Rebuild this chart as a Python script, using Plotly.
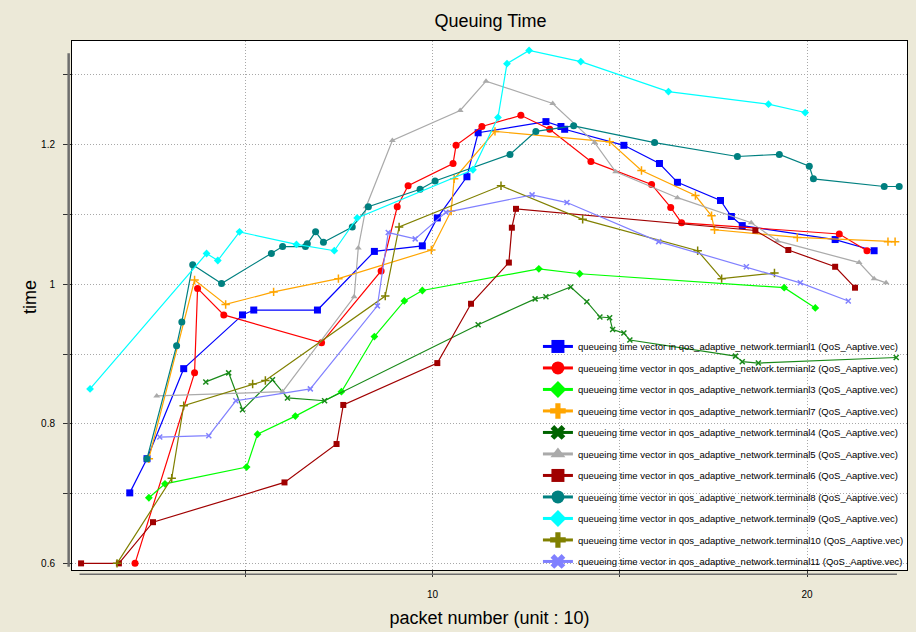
import plotly.graph_objects as go

# ---------------- data ----------------
t1_x = [1.92, 2.38, 3.36, 4.93, 5.23, 6.93, 8.45, 9.73, 10.13, 10.92, 11.22, 13.03, 13.43, 13.53, 15.11, 16.06, 16.54, 17.69, 17.98, 18.27, 20.75, 21.79]
t1_y = [0.701, 0.750, 0.879, 0.956, 0.963, 0.963, 1.047, 1.055, 1.095, 1.154, 1.217, 1.233, 1.226, 1.222, 1.199, 1.173, 1.146, 1.120, 1.097, 1.084, 1.064, 1.048]

t2_x = [2.06, 3.65, 3.73, 4.43, 7.04, 8.63, 9.06, 9.35, 10.55, 10.63, 11.32, 12.36, 13.13, 14.23, 15.85, 16.36, 16.65, 20.86, 21.60]
t2_y = [0.600, 0.873, 0.994, 0.956, 0.916, 1.019, 1.111, 1.141, 1.173, 1.199, 1.226, 1.242, 1.222, 1.176, 1.143, 1.110, 1.088, 1.072, 1.048]

t3_x = [2.43, 2.86, 5.04, 5.33, 6.34, 7.57, 8.45, 9.25, 9.73, 12.84, 13.93, 19.39, 20.22]
t3_y = [0.694, 0.714, 0.738, 0.785, 0.811, 0.846, 0.925, 0.976, 0.991, 1.022, 1.015, 0.995, 0.966]

t7_x = [2.43, 3.65, 4.48, 5.76, 7.49, 9.97, 10.50, 10.58, 11.67, 14.73, 15.58, 17.02, 17.45, 17.53, 19.74, 22.16, 22.35]
t7_y = [0.750, 1.006, 0.971, 0.989, 1.008, 1.049, 1.105, 1.151, 1.219, 1.204, 1.163, 1.127, 1.098, 1.078, 1.067, 1.061, 1.061]

t4_x = [3.95, 4.56, 4.93, 5.73, 6.13, 7.12, 11.22, 12.74, 13.03, 13.69, 14.12, 14.47, 14.73, 14.81, 15.11, 15.27, 18.09, 18.27, 18.70, 22.38]
t4_y = [0.860, 0.873, 0.820, 0.863, 0.837, 0.833, 0.942, 0.979, 0.982, 0.996, 0.975, 0.953, 0.952, 0.935, 0.930, 0.920, 0.897, 0.889, 0.887, 0.895]

t5_x = [2.64, 6.00, 7.91, 8.02, 8.23, 8.93, 10.74, 11.43, 13.21, 14.33, 14.89, 16.54, 18.51, 19.21, 21.39, 21.79, 22.11]
t5_y = [0.840, 0.846, 0.982, 1.052, 1.111, 1.206, 1.249, 1.291, 1.259, 1.203, 1.161, 1.124, 1.088, 1.062, 1.031, 1.008, 1.002]

t6_x = [0.62, 1.63, 2.54, 6.05, 7.44, 7.62, 10.13, 11.03, 12.04, 12.12, 12.23, 18.62, 19.50, 20.75, 21.28]
t6_y = [0.600, 0.600, 0.659, 0.716, 0.771, 0.827, 0.887, 0.972, 1.031, 1.081, 1.108, 1.077, 1.049, 1.025, 0.995]

t8_x = [2.38, 3.17, 3.31, 3.60, 4.37, 5.70, 6.00, 6.61, 6.66, 6.88, 7.09, 7.86, 8.29, 9.67, 10.07, 12.07, 12.76, 13.77, 15.93, 18.14, 19.26, 20.06, 20.17, 22.06, 22.46]
t8_y = [0.750, 0.912, 0.946, 1.028, 1.001, 1.044, 1.054, 1.054, 1.058, 1.075, 1.060, 1.082, 1.111, 1.136, 1.148, 1.186, 1.219, 1.227, 1.203, 1.183, 1.186, 1.169, 1.151, 1.140, 1.140]

t9_x = [0.86, 3.97, 4.27, 4.85, 6.37, 7.38, 7.99, 11.08, 11.75, 11.99, 12.58, 13.96, 16.30, 18.97, 19.95]
t9_y = [0.850, 1.044, 1.034, 1.075, 1.057, 1.048, 1.095, 1.164, 1.239, 1.316, 1.335, 1.319, 1.276, 1.258, 1.246]

t10_x = [1.58, 3.04, 3.36, 5.20, 5.54, 8.74, 9.11, 11.83, 14.01, 17.08, 17.72, 19.13]
t10_y = [0.600, 0.722, 0.826, 0.857, 0.862, 0.983, 1.082, 1.141, 1.093, 1.048, 1.008, 1.016]

t11_x = [2.72, 4.03, 4.75, 6.74, 8.53, 8.82, 9.54, 10.36, 12.66, 13.59, 16.04, 18.38, 19.82, 21.10]
t11_y = [0.781, 0.783, 0.833, 0.850, 0.969, 1.074, 1.065, 1.103, 1.128, 1.117, 1.061, 1.025, 1.002, 0.976]

names = [
    "queueing time vector in qos_adaptive_network.termianl1 (QoS_Aaptive.vec)",
    "queueing time vector in qos_adaptive_network.termianl2 (QoS_Aaptive.vec)",
    "queueing time vector in qos_adaptive_network.termianl3 (QoS_Aaptive.vec)",
    "queueing time vector in qos_adaptive_network.termianl7 (QoS_Aaptive.vec)",
    "queueing time vector in qos_adaptive_network.terminal4 (QoS_Aaptive.vec)",
    "queueing time vector in qos_adaptive_network.terminal5 (QoS_Aaptive.vec)",
    "queueing time vector in qos_adaptive_network.terminal6 (QoS_Aaptive.vec)",
    "queueing time vector in qos_adaptive_network.terminal8 (QoS_Aaptive.vec)",
    "queueing time vector in qos_adaptive_network.terminal9 (QoS_Aaptive.vec)",
    "queueing time vector in qos_adaptive_network.terminal10 (QoS_Aaptive.vec)",
    "queueing time vector in qos_adaptive_network.terminal11 (QoS_Aaptive.vec)",
]

y_tickvals = [0.6, 0.7, 0.8, 0.9, 1.0, 1.1, 1.2, 1.3]
y_ticktext = ["0.6", "", "0.8", "", "1", "", "1.2", ""]
x_tickvals = [5, 10, 15, 20]
x_ticktext = ["", "10", "", "20"]

# ---------------- styles ----------------
series = [
    (t1_x, t1_y, "#0000FF", "square", 7, "square", 0),
    (t2_x, t2_y, "#FF0000", "circle", 7, "circle", 0),
    (t3_x, t3_y, "#00FF00", "diamond", 6, "diamond", 0),
    (t7_x, t7_y, "#FFA500", "cross-thin-open", 6, "cross", 1.5),
    (t4_x, t4_y, "#1A8A1A", "x-thin-open", 5, "x", 1.5),
    (t5_x, t5_y, "#AAAAAA", "triangle-up", 6, "triangle-up", 0),
    (t6_x, t6_y, "#A00000", "square", 6, "square", 0),
    (t8_x, t8_y, "#008080", "circle", 7, "circle", 0),
    (t9_x, t9_y, "#00FFFF", "diamond", 6, "diamond", 0),
    (t10_x, t10_y, "#808000", "cross-thin-open", 6, "cross", 1.5),
    (t11_x, t11_y, "#8080FF", "x-thin-open", 5, "x", 1.5),
]
legend_colors = ["#0000FF", "#FF0000", "#00FF00", "#FFA500", "#006400", "#AAAAAA",
                 "#A00000", "#008080", "#00FFFF", "#808000", "#8080FF"]

fig = go.Figure()
for i, (xs, ys, col, sym, sz, lsym, mlw) in enumerate(series):
    fig.add_trace(go.Scatter(
        x=xs, y=ys, mode="lines+markers", name=names[i], showlegend=False,
        legendgroup="g%d" % i,
        line=dict(color=col, width=1.2),
        marker=dict(symbol=sym, size=sz, color=col, line=dict(color=col, width=mlw)),
    ))
# legend entries (large symbols, thick lines, as in the original legend)
for i, (xs, ys, col, sym, sz, lsym, mlw) in enumerate(series):
    fig.add_trace(go.Scatter(
        x=[None], y=[None], mode="lines+markers", name=names[i], showlegend=True,
        legendgroup="g%d" % i,
        line=dict(color=legend_colors[i], width=3),
        marker=dict(symbol=lsym, size=13, color=legend_colors[i], line=dict(width=0)),
    ))

font_family = "Arial, Liberation Sans, sans-serif"

fig.update_layout(
    width=916, height=632,
    paper_bgcolor="#ECE9D8", plot_bgcolor="#FFFFFF",
    margin=dict(l=72, r=7, t=41, b=60),
    font=dict(family=font_family, color="#000000", size=10),
    title=dict(text="Queuing Time", x=0.5355, xanchor="center", y=0.968, yanchor="middle",
               font=dict(size=18, family=font_family, color="#000000")),
    legend=dict(x=0.558, xanchor="left", y=0.45, yanchor="top",
                bgcolor="rgba(0,0,0,0)", borderwidth=0,
                font=dict(size=9.5, family=font_family, color="#000000"),
                tracegroupgap=2.5),
    showlegend=True,
)
fig.update_xaxes(
    range=[0.378, 22.668], tickmode="array", tickvals=x_tickvals, ticktext=x_ticktext,
    showgrid=True, gridcolor="#A8A8A8", griddash="1px,2px", gridwidth=1,
    showline=True, linecolor="#000000", linewidth=1, mirror=True,
    ticks="outside", ticklen=6, tickcolor="#333333", ticklabelstandoff=9,
    zeroline=False,
    title=dict(text="packet number (unit : 10)", font=dict(size=18, family=font_family), standoff=12),
)
fig.update_yaxes(
    range=[0.5905, 1.3485], tickmode="array", tickvals=y_tickvals, ticktext=y_ticktext,
    showgrid=True, gridcolor="#A8A8A8", griddash="1px,2px", gridwidth=1,
    showline=True, linecolor="#000000", linewidth=1, mirror=True,
    ticks="outside", ticklen=8, tickcolor="#333333", ticklabelstandoff=6,
    zeroline=False,
)
# y-axis title placed where the original shows it
fig.add_annotation(text="time", textangle=-90, xref="paper", yref="paper",
                   x=-0.0502, y=0.516, xanchor="center", yanchor="middle", showarrow=False,
                   font=dict(size=18, family=font_family, color="#000000"))
# the separate grey axis lines of the original viewer
fig.add_shape(type="line", xref="paper", yref="paper", x0=-0.004, x1=-0.004, y0=0.006, y1=0.977,
              line=dict(color="#6E6E6E", width=2.5))
fig.add_shape(type="line", xref="paper", yref="paper", x0=0.009, x1=0.988, y0=-0.008, y1=-0.008,
              line=dict(color="#6E6E6E", width=1.5))

fig.write_html("out.html", config={"displayModeBar": False},
               post_script="document.body.style.margin='0px';document.body.style.overflow='hidden';")
